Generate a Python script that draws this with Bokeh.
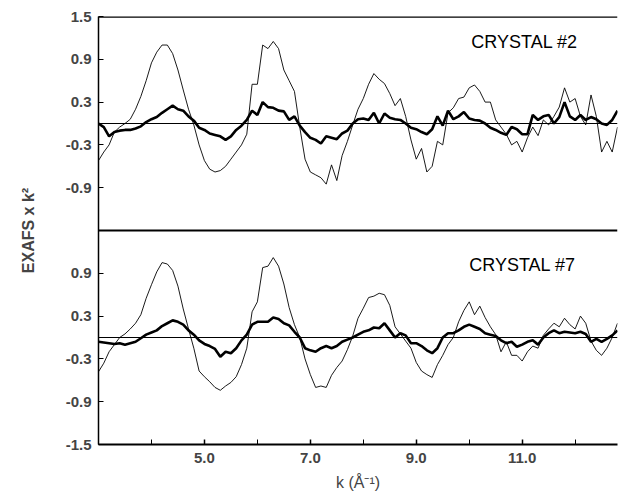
from bokeh.plotting import figure
from bokeh.models import Range1d, FixedTicker, Span, Label
from bokeh.embed import file_html
from bokeh.resources import INLINE

# k grid (1/Angstrom)
k = [3.0, 3.1, 3.2, 3.3, 3.4, 3.5, 3.6, 3.7, 3.8, 3.9,
     4.0, 4.1, 4.2, 4.3, 4.4, 4.5, 4.6, 4.7, 4.8, 4.9,
     5.0, 5.1, 5.2, 5.3, 5.4, 5.5, 5.6, 5.7, 5.8, 5.9,
     6.0, 6.1, 6.2, 6.3, 6.4, 6.5, 6.6, 6.7, 6.8, 6.9,
     7.0, 7.1, 7.2, 7.3, 7.4, 7.5, 7.6, 7.7, 7.8, 7.9,
     8.0, 8.1, 8.2, 8.3, 8.4, 8.5, 8.6, 8.7, 8.8, 8.9,
     9.0, 9.1, 9.2, 9.3, 9.4, 9.5, 9.6, 9.7, 9.8, 9.9,
     10.0, 10.1, 10.2, 10.3, 10.4, 10.5, 10.6, 10.7, 10.8, 10.9,
     11.0, 11.1, 11.2, 11.3, 11.4, 11.5, 11.6, 11.7, 11.8, 11.9,
     12.0, 12.1, 12.2, 12.3, 12.4, 12.5, 12.6, 12.7, 12.8]

# Crystal #2 (top panel)
c2_thin = [-0.52, -0.40, -0.30, -0.12, -0.05, 0.00, 0.06, 0.20, 0.38, 0.60,
           0.85, 1.00, 1.10, 1.10, 0.98, 0.75, 0.47, 0.20, -0.02, -0.30,
           -0.52, -0.64, -0.68, -0.66, -0.60, -0.50, -0.40, -0.30, -0.15, 0.55,
           0.55, 1.10, 1.05, 1.15, 1.05, 0.75, 0.60, 0.45, -0.05, -0.50,
           -0.68, -0.72, -0.76, -0.85, -0.58, -0.80, -0.45, -0.25, -0.02, 0.20,
           0.35, 0.55, 0.70, 0.62, 0.56, 0.42, 0.25, 0.35, 0.10, -0.23,
           -0.50, -0.35, -0.68, -0.60, -0.25, -0.30, 0.15, 0.22, 0.35, 0.37,
           0.50, 0.54, 0.45, 0.30, 0.30, 0.05, -0.05, -0.15, -0.30, -0.25,
           -0.40, -0.20, -0.05, -0.17, 0.05, -0.02, 0.10, 0.23, 0.50, 0.30,
           0.35, 0.10, -0.02, 0.40, 0.10, -0.40, -0.25, -0.40, -0.05]
c2_thick = [0.00, -0.05, -0.18, -0.12, -0.10, -0.09, -0.09, -0.07, -0.04, 0.02,
            0.06, 0.09, 0.15, 0.20, 0.25, 0.20, 0.18, 0.10, 0.04, -0.06,
            -0.09, -0.14, -0.16, -0.18, -0.23, -0.18, -0.09, -0.03, 0.05, 0.18,
            0.12, 0.30, 0.23, 0.22, 0.18, 0.17, 0.05, 0.10, -0.03, -0.12,
            -0.20, -0.23, -0.28, -0.18, -0.20, -0.22, -0.14, -0.10, 0.00, 0.06,
            0.07, 0.05, 0.15, 0.00, 0.14, 0.08, 0.06, 0.05, 0.00, -0.06,
            -0.08, -0.12, -0.15, -0.08, 0.10, -0.03, 0.18, 0.06, 0.10, 0.16,
            0.07, 0.05, 0.04, 0.00, -0.06, -0.09, -0.13, -0.16, -0.05, -0.08,
            -0.15, -0.15, 0.12, 0.05, 0.10, 0.12, 0.00, 0.09, 0.30, 0.10,
            0.05, 0.12, 0.05, 0.09, 0.06, 0.00, -0.02, 0.05, 0.18]

# Crystal #7 (bottom panel)
c7_thin = [-0.48, -0.36, -0.20, -0.10, 0.00, 0.05, 0.12, 0.20, 0.32, 0.55,
           0.74, 0.92, 1.05, 1.03, 0.94, 0.72, 0.40, 0.12, -0.15, -0.47,
           -0.55, -0.62, -0.70, -0.74, -0.68, -0.63, -0.55, -0.38, -0.15, 0.36,
           0.50, 0.98, 1.00, 1.12, 1.00, 0.75, 0.42, 0.18, 0.00, -0.30,
           -0.52, -0.70, -0.68, -0.70, -0.53, -0.42, -0.33, -0.17, 0.02, 0.27,
           0.41, 0.56, 0.58, 0.62, 0.60, 0.45, 0.15, 0.05, -0.05, -0.15,
           -0.35, -0.47, -0.52, -0.56, -0.38, -0.25, -0.10, 0.00, 0.22, 0.38,
           0.50, 0.32, 0.44, 0.28, 0.15, 0.04, -0.20, -0.06, -0.25, -0.25,
           -0.33, -0.20, -0.12, -0.15, 0.03, 0.12, 0.20, 0.15, 0.27, 0.18,
           0.12, 0.30, 0.20, -0.05, -0.18, -0.25, -0.15, 0.00, 0.20]
c7_thick = [-0.06, -0.07, -0.08, -0.09, -0.08, -0.10, -0.08, -0.06, -0.01, 0.04,
            0.07, 0.10, 0.16, 0.20, 0.24, 0.22, 0.18, 0.10, 0.04, -0.04,
            -0.09, -0.12, -0.16, -0.27, -0.20, -0.22, -0.15, -0.04, 0.04, 0.18,
            0.22, 0.22, 0.22, 0.28, 0.26, 0.20, 0.17, 0.08, 0.00, -0.15,
            -0.18, -0.20, -0.15, -0.12, -0.15, -0.12, -0.06, -0.03, 0.00, 0.04,
            0.08, 0.10, 0.14, 0.13, 0.20, 0.10, 0.00, 0.06, 0.03, -0.08,
            -0.08, -0.12, -0.18, -0.22, -0.15, 0.00, 0.06, 0.06, 0.10, 0.15,
            0.18, 0.15, 0.12, 0.06, 0.04, 0.02, -0.04, -0.08, -0.06, -0.13,
            -0.10, -0.06, -0.04, -0.10, 0.00, 0.06, 0.10, 0.06, 0.08, 0.07,
            0.06, 0.08, 0.05, -0.06, -0.02, -0.06, -0.02, 0.03, 0.10]

# Tick positions / labels
x_major = [5.0, 7.0, 9.0, 11.0]
x_minor = [3.0, 4.0, 6.0, 8.0, 10.0, 12.0]
x_labels = {5.0: "5.0", 7.0: "7.0", 9.0: "9.0", 11.0: "11.0"}
bottom_ticks = [-1.5, -0.9, -0.3, 0.3, 0.9]
top_ticks = [-0.9, -0.3, 0.3, 0.9, 1.5]
top_offset = 3.0  # top panel occupies the upper half of the shared frame

FONT = "Liberation Sans"

p = figure(width=618, height=495,
           x_range=Range1d(3.0, 12.8), y_range=Range1d(-1.5, 4.5),
           output_backend="svg", toolbar_location=None,
           min_border_left=98, min_border_right=1,
           min_border_top=16, min_border_bottom=51)
p.extra_y_ranges = {"top": Range1d(-1.5 - top_offset, 1.5)}
p.xgrid.visible = False
p.ygrid.visible = False
p.outline_line_color = None
p.background_fill_color = "white"

# x axis
xa = p.xaxis[0]
xa.ticker = FixedTicker(ticks=x_major, minor_ticks=x_minor)
xa.major_label_overrides = x_labels
xa.major_tick_in = 5
xa.major_tick_out = 0
xa.minor_tick_in = 5
xa.minor_tick_out = 0
xa.axis_line_width = 2
xa.major_tick_line_width = 1.5
xa.major_label_standoff = 8
xa.major_label_text_font = FONT
xa.major_label_text_font_size = "15px"
xa.major_label_text_font_style = "bold"
xa.axis_label = "k (Å⁻¹)"
xa.axis_label_standoff = 8
xa.axis_label_text_font = FONT
xa.axis_label_text_font_size = "16px"
xa.axis_label_text_font_style = "normal"

# y axis: both panels share one frame
ya = p.yaxis[0]
ytick_pos = bottom_ticks + [t + top_offset for t in top_ticks]
ylabels = {}
for t in bottom_ticks:
    ylabels[t] = "%.1f" % t
for t in top_ticks:
    ylabels[round(t + top_offset, 10)] = "%.1f" % t
ya.ticker = FixedTicker(ticks=[round(t, 10) for t in ytick_pos])
ya.major_label_overrides = ylabels
ya.major_tick_in = 5
ya.major_tick_out = 0
ya.minor_tick_line_color = None
ya.axis_line_width = 1.5
ya.major_label_standoff = 7
ya.major_label_text_font = FONT
ya.major_label_text_font_size = "15px"
ya.major_label_text_font_style = "bold"
ya.axis_label = "EXAFS x k²"
ya.axis_label_standoff = 26
ya.axis_label_text_font = FONT
ya.axis_label_text_font_size = "16px"
ya.axis_label_text_font_style = "bold"

# frame lines
p.add_layout(Span(location=1.5, dimension="width", line_color="black", line_width=2))
p.add_layout(Span(location=4.5, dimension="width", line_color="black", line_width=2.5))
# zero lines
p.add_layout(Span(location=0, dimension="width", line_color="black", line_width=1.2))
p.add_layout(Span(location=0, dimension="width", y_range_name="top",
                  line_color="black", line_width=1.2))

# curves
p.line(k, c2_thin, y_range_name="top", line_color="black", line_width=0.9)
p.line(k, c2_thick, y_range_name="top", line_color="black", line_width=2.6)
p.line(k, c7_thin, line_color="black", line_width=0.9)
p.line(k, c7_thick, line_color="black", line_width=2.6)

p.add_layout(Label(x=10.04, y=1.14, y_range_name="top", text="CRYSTAL #2",
                   text_font=FONT, text_font_size="18px", text_baseline="middle",
                   text_color="black"))
p.add_layout(Label(x=10.0, y=1.02, text="CRYSTAL #7",
                   text_font=FONT, text_font_size="18px", text_baseline="middle",
                   text_color="black"))

open("out.html", "w").write(file_html(p, INLINE))
